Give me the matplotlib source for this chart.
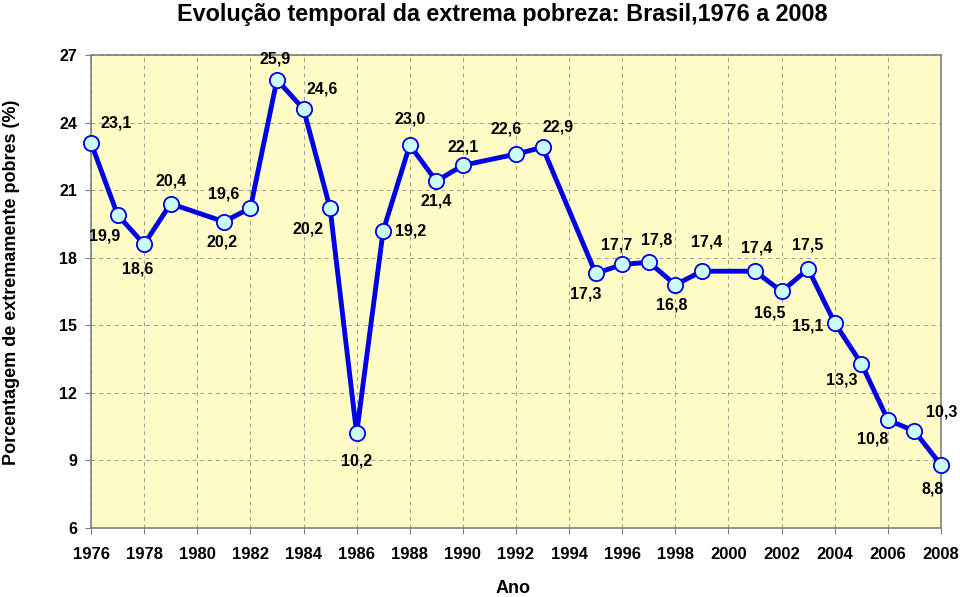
import matplotlib
matplotlib.use('Agg')
import matplotlib.pyplot as plt

plt.rcParams['font.family'] = ['Liberation Sans', 'DejaVu Sans']
plt.rcParams['font.weight'] = 'bold'

# Data (PNAD years; 1980, 1991, 1994, 2000 missing)
anos = [1976, 1977, 1978, 1979, 1981, 1982, 1983, 1984, 1985, 1986, 1987,
        1988, 1989, 1990, 1992, 1993, 1995, 1996, 1997, 1998, 1999, 2001,
        2002, 2003, 2004, 2005, 2006, 2007, 2008]
pobreza = [23.1, 19.9, 18.6, 20.4, 19.6, 20.2, 25.9, 24.6, 20.2, 10.2, 19.2,
           23.0, 21.4, 22.1, 22.6, 22.9, 17.3, 17.7, 17.8, 16.8, 17.4, 17.4,
           16.5, 17.5, 15.1, 13.3, 10.8, 10.3, 8.8]
rotulos = ['23,1', '19,9', '18,6', '20,4', '19,6', '20,2', '25,9', '24,6', '20,2',
           '10,2', '19,2', '23,0', '21,4', '22,1', '22,6', '22,9', '17,3', '17,7',
           '17,8', '16,8', '17,4', '17,4', '16,5', '17,5', '15,1', '13,3', '10,8',
           '10,3', '8,8']
x_ticks = list(range(1976, 2009, 2))
y_ticks = list(range(6, 28, 3))

# label offsets in pixels (dx, dy), dy positive = up
offsets = [(25, 20), (-13, -21), (-6, -25), (0, 23), (0, 28), (-28, -34),
           (-2, 21), (19, 20), (-22, -21), (0, -28), (27, 0), (0, 26),
           (0, -20), (0, 18), (-10, 25), (16, 20), (-10, -21), (-6, 19),
           (8, 22), (-4, -20), (5, 29), (2, 23), (-12, -22), (0, 24),
           (-27, -3), (-20, -16), (-15, -19), (27, 19), (-8, -24)]

fig = plt.figure(figsize=(9.6, 5.97), dpi=100)
ax = fig.add_axes([0.0948, 0.1156, 0.8854, 0.7923])
ax.set_facecolor('#FFFCC6')

ax.plot(anos, pobreza, '-o', color='#0000E6', lw=3.5, ms=11,
        mfc='#CCFFFF', mec='#0000E6', mew=1.3, zorder=3, clip_on=False)

for x, y, t, (dx, dy) in zip(anos, pobreza, rotulos, offsets):
    ax.annotate(t, (x, y), xytext=(dx, dy), textcoords='offset pixels',
                ha='center', va='center', fontsize=11.5, fontweight='bold',
                zorder=4)

ax.set_xlim(1976, 2008)
ax.set_ylim(6, 27)
ax.set_xticks(x_ticks)
ax.set_yticks(y_ticks)
ax.tick_params(axis='y', labelsize=11.5, length=4, pad=6, color='#808080')
ax.tick_params(axis='x', labelsize=12, length=4, pad=10, color='#808080')
for lbl in ax.get_xticklabels() + ax.get_yticklabels():
    lbl.set_fontweight('bold')
ax.grid(True, ls=(0, (4, 4)), color='#9a9a9a', lw=0.7)
for s in ax.spines.values():
    s.set_color('#808080')
    s.set_linewidth(1.2)

ax.set_xlabel('Ano', fontsize=13, fontweight='bold', va='center')
ax.xaxis.set_label_coords(0.496, -0.127)
ax.set_ylabel('Porcentagem de extremamente pobres (%)', fontsize=13,
              fontweight='bold')
ax.yaxis.set_label_coords(-0.083, 0.52)
fig.suptitle('Evolução temporal da extrema pobreza: Brasil,1976 a 2008',
             x=0.523, y=0.995, fontsize=16.8, fontweight='bold')

fig.savefig('out.png', dpi=100, facecolor='white')
